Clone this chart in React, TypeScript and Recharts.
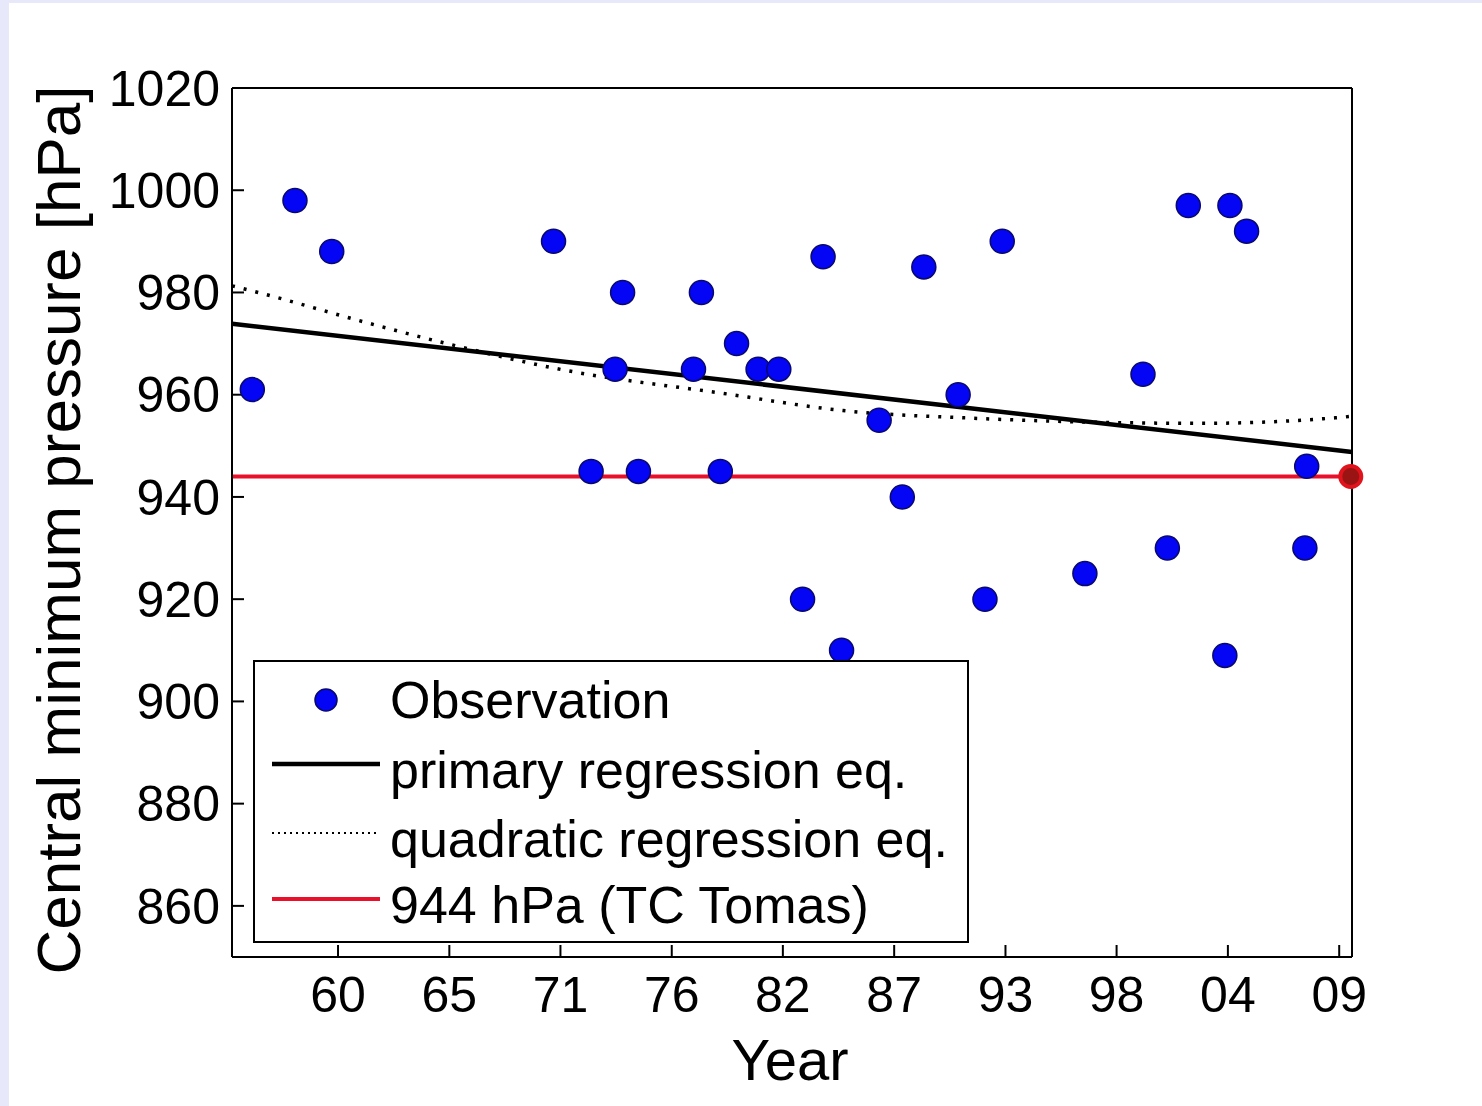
import React from 'react';
import { ComposedChart, XAxis, YAxis, Scatter, Line, ReferenceLine, Legend } from 'recharts';

// ---------- data ----------
const OBS_YEARS = [1956.12, 1958.22, 1960.03, 1970.95, 1972.8, 1973.98, 1974.35, 1975.13, 1977.84, 1978.23, 1979.16, 1979.96, 1981.02, 1982.04, 1983.21, 1984.22, 1985.13, 1986.98, 1988.12, 1989.18, 1990.87, 1992.19, 1993.04, 1997.11, 1999.97, 2001.17, 2002.2, 2004.0, 2004.25, 2005.07, 2007.94, 2008.03];
const OBS_PRESSURE = [961, 998, 988, 990, 945, 965, 980, 945, 965, 980, 945, 970, 965, 965, 920, 987, 910, 955, 940, 985, 960, 920, 990, 925, 964, 930, 997, 909, 997, 992, 930, 946];

const LIN_YEARS = [1955.12, 2010.26];
const LIN_PRESSURE = [973.9, 948.8];

const QUAD_YEARS = [1955.12, 1956.6, 1961.65, 1965.6, 1971.5, 1979.23, 1985.2, 1991.6, 1997.85, 2002.8, 2009.8, 2010.26];
const QUAD_PRESSURE = [981.3, 979.8, 974.2, 970.1, 964.8, 960.3, 956.9, 955.4, 954.6, 954.4, 955.6, 955.8];

const TOMAS_YEAR = [2010.2];
const TOMAS_PRESSURE = [944];
const TOMAS_LEVEL = 944;

const X_DOMAIN = [1955.12, 2010.26];
const Y_DOMAIN = [850, 1020];
const X_TICKS = [1960.34, 1965.82, 1971.29, 1976.77, 1982.24, 1987.72, 1993.2, 1998.67, 2004.15, 2009.63];
const X_TICK_LABELS = ['60', '65', '71', '76', '82', '87', '93', '98', '04', '09'];
const Y_TICKS = [860, 880, 900, 920, 940, 960, 980, 1000, 1020];

const LEGEND_LABELS = ['Observation', 'primary regression eq.', 'quadratic regression eq.', '944 hPa (TC Tomas)'];
const X_TITLE = 'Year';
const Y_TITLE = 'Central minimum pressure [hPa]';

const obsData = OBS_YEARS.map((x, i) => ({ x, y: OBS_PRESSURE[i] }));
const linData = LIN_YEARS.map((x, i) => ({ x, y: LIN_PRESSURE[i] }));
const quadData = QUAD_YEARS.map((x, i) => ({ x, y: QUAD_PRESSURE[i] }));
const tomasData = TOMAS_YEAR.map((x, i) => ({ x, y: TOMAS_PRESSURE[i] }));

// ---------- style ----------
const W = 1482;
const H = 1106;
const FONT = '"Liberation Sans", Arial, Helvetica, sans-serif';
const BLUE = '#0505f5';
const BLUE_EDGE = '#08086e';
const RED = '#e8102a';

const ObsDot = (props: any) => {
  const { cx, cy } = props;
  if (cx == null || cy == null) return null;
  return <circle cx={cx} cy={cy} r={12} fill={BLUE} stroke={BLUE_EDGE} strokeWidth={1.5} />;
};

const TomasDot = (props: any) => {
  const { cx, cy } = props;
  if (cx == null || cy == null) return null;
  return <circle cx={cx} cy={cy} r={10.5} fill="#9a1414" stroke="#e0141c" strokeWidth={4} />;
};

const renderLegend = () => {
  const textStyle = { fontFamily: FONT, fontSize: 52, fill: '#000' } as any;
  return (
    <svg width={716} height={284} style={{ display: 'block' }}>
      <rect x={1} y={1} width={714} height={281} fill="#fff" stroke="#000" strokeWidth={2} />
      <circle cx={73} cy={40} r={11} fill={BLUE} stroke={BLUE_EDGE} strokeWidth={1.5} />
      <text x={137} y={58} {...textStyle}>{LEGEND_LABELS[0]}</text>
      <line x1={19} x2={127} y1={104} y2={104} stroke="#000" strokeWidth={4.5} />
      <text x={137} y={128} {...textStyle}>{LEGEND_LABELS[1]}</text>
      <line x1={19} x2={127} y1={173} y2={173} stroke="#000" strokeWidth={2} strokeDasharray="2 4" />
      <text x={137} y={197} {...textStyle}>{LEGEND_LABELS[2]}</text>
      <line x1={19} x2={127} y1={239} y2={239} stroke={RED} strokeWidth={4} />
      <text x={137} y={263} {...textStyle}>{LEGEND_LABELS[3]}</text>
    </svg>
  );
};

const YTitle = () => (
  <text x={80} y={530} transform="rotate(-90, 80, 530)" textAnchor="middle" fontFamily={FONT} fontSize={62} fill="#000">
    {Y_TITLE}
  </text>
);

const XTitle = () => (
  <text x={790} y={1080} textAnchor="middle" fontFamily={FONT} fontSize={58} fill="#000">
    {X_TITLE}
  </text>
);

const axisLine = { stroke: '#000', strokeWidth: 2 };
const tickLine = { stroke: '#000', strokeWidth: 2 };
const tickStyle = { fontSize: 50, fill: '#000', fontFamily: FONT };

export default function App() {
  return (
    <div style={{ position: 'absolute', left: 0, top: 0, width: W, height: H, background: '#e7e9fb', overflow: 'hidden' }}>
      <div style={{ position: 'absolute', left: 9, top: 3, width: W - 9, height: H - 3, background: '#fff' }} />
      <div style={{ position: 'absolute', left: 0, top: 0 }}>
        <ComposedChart width={W} height={H} margin={{ top: 68, right: 110, bottom: 89, left: 112 }}>
          <XAxis
            xAxisId="b"
            type="number"
            dataKey="x"
            domain={X_DOMAIN}
            ticks={X_TICKS}
            interval={0}
            tickFormatter={(v: number) => X_TICK_LABELS[X_TICKS.indexOf(v)]}
            height={60}
            tickSize={-12}
            tickMargin={31}
            axisLine={axisLine}
            tickLine={tickLine}
            tick={tickStyle}
            label={{ content: () => <XTitle /> }}
          />
          <XAxis
            xAxisId="t"
            orientation="top"
            type="number"
            dataKey="x"
            domain={X_DOMAIN}
            ticks={X_TICKS}
            interval={0}
            tickFormatter={() => ''}
            height={20}
            tickSize={-12}
            axisLine={axisLine}
            tickLine={tickLine}
          />
          <YAxis
            yAxisId="l"
            type="number"
            dataKey="y"
            domain={Y_DOMAIN}
            ticks={Y_TICKS}
            interval={0}
            width={120}
            tickSize={-12}
            tickMargin={24}
            axisLine={axisLine}
            tickLine={tickLine}
            tick={tickStyle}
            label={{ content: () => <YTitle /> }}
          />
          <YAxis
            yAxisId="r"
            orientation="right"
            type="number"
            dataKey="y"
            domain={Y_DOMAIN}
            ticks={Y_TICKS}
            interval={0}
            width={20}
            tickSize={-12}
            tickFormatter={() => ''}
            axisLine={axisLine}
            tickLine={tickLine}
          />
          <Line
            xAxisId="b"
            yAxisId="l"
            data={quadData}
            dataKey="y"
            type="monotone"
            stroke="#000"
            strokeWidth={3.5}
            strokeDasharray="3 9"
            dot={false}
            activeDot={false}
            isAnimationActive={false}
          />
          <Line
            xAxisId="b"
            yAxisId="l"
            data={linData}
            dataKey="y"
            type="linear"
            stroke="#000"
            strokeWidth={4.5}
            dot={false}
            activeDot={false}
            isAnimationActive={false}
          />
          <Scatter xAxisId="b" yAxisId="l" data={obsData} shape={ObsDot} isAnimationActive={false} />
          <ReferenceLine xAxisId="b" yAxisId="l" y={TOMAS_LEVEL} stroke={RED} strokeWidth={4} />
          <Scatter xAxisId="b" yAxisId="l" data={tomasData} shape={TomasDot} isAnimationActive={false} />
          <Legend
            layout="horizontal"
            verticalAlign="middle"
            align="center"
            wrapperStyle={{ left: 253, top: 660, width: 716, height: 284 }}
            content={renderLegend}
          />
        </ComposedChart>
      </div>
    </div>
  );
}
